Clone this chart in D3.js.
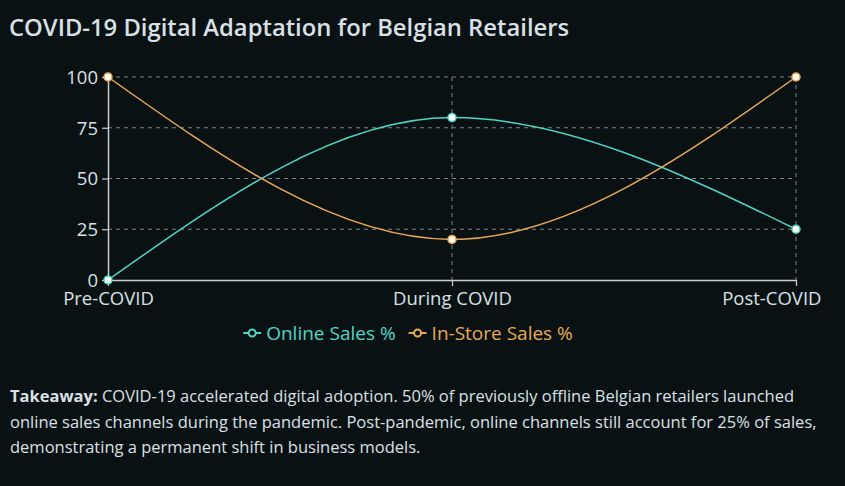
<!DOCTYPE html>
<html><head><meta charset="utf-8">
<script src="https://cdn.jsdelivr.net/npm/d3@7"></script>
<style>
html,body{margin:0;padding:0;background:#0a1113;}
body{width:845px;height:486px;overflow:hidden;font-family:"Open Sans","Noto Sans",sans-serif;color:#d9e0e6;}
</style></head>
<body>
<svg id="chart" width="845" height="486"></svg>
<script>
const categories = ["Pre-COVID", "During COVID", "Post-COVID"];
const onlineSales = [0, 80, 25];
const inStoreSales = [100, 20, 100];
const yTicks = [0, 25, 50, 75, 100];
const seriesNames = ["Online Sales %", "In-Store Sales %"];
const seriesColors = ["#4ed6c4", "#e8a957"];
const title = "COVID-19 Digital Adaptation for Belgian Retailers";
const takeawayLines = [
  [{b:true,t:"Takeaway:"},{b:false,t:" COVID-19 accelerated digital adoption. 50% of previously offline Belgian retailers launched"}],
  [{b:false,t:"online sales channels during the pandemic. Post-pandemic, online channels still account for 25% of sales,"}],
  [{b:false,t:"demonstrating a permanent shift in business models."}]
];

const svg = d3.select("#chart");
const textColor = "#d9e0e6";
const mLeft = 108, mRight = 796, mTop = 77, mBottom = 280;
const labelRightLimit = 821;

svg.append("text").attr("x", 9).attr("y", 36).attr("fill", textColor)
  .attr("font-size", 23.8).attr("font-weight", 600).text(title);

const x = d3.scalePoint().domain(categories).range([mLeft, mRight]);
const y = d3.scaleLinear().domain([0, 100]).range([mBottom, mTop]);

// grid
const g = svg.append("g");
g.selectAll(".hg").data(yTicks.filter(d => d > 0)).join("line")
  .attr("x1", mLeft).attr("x2", mRight).attr("y1", d => y(d)).attr("y2", d => y(d))
  .attr("stroke", "#7d8588").attr("stroke-dasharray", "4,4").attr("stroke-width", 1);
g.selectAll(".vg").data(categories.slice(1)).join("line")
  .attr("x1", d => x(d)).attr("x2", d => x(d)).attr("y1", mTop).attr("y2", mBottom)
  .attr("stroke", "#7d8588").attr("stroke-dasharray", "4,4").attr("stroke-width", 1);

// axes
const ax = svg.append("g").attr("transform", `translate(0,${mBottom})`)
  .call(d3.axisBottom(x).tickSize(6).tickSizeOuter(0).tickPadding(2));
const ay = svg.append("g").attr("transform", `translate(${mLeft},0)`)
  .call(d3.axisLeft(y).tickValues(yTicks).tickSize(6).tickSizeOuter(0).tickPadding(4));
[ax, ay].forEach(a => {
  a.select(".domain").attr("stroke", "#c8ced2").attr("stroke-width", 1.5);
  a.selectAll(".tick line").attr("stroke", "#c8ced2").attr("stroke-width", 1.2);
  a.selectAll(".tick text").attr("fill", textColor).attr("font-size", 18.5)
    .attr("font-family", '"Open Sans","Noto Sans",sans-serif');
});
ax.selectAll(".tick text").attr("dy", "0.9em");
ay.selectAll(".tick text").attr("dy", "0.35em");
// keep the last x label inside the chart area
ax.selectAll(".tick text").each(function(d) {
  const w = this.getComputedTextLength();
  const over = x(d) + w / 2 - labelRightLimit;
  if (over > 0) d3.select(this).attr("x", -over);
});

// lines
const line = d3.line().x((d, i) => x(categories[i])).y(d => y(d)).curve(d3.curveMonotoneX);
[onlineSales, inStoreSales].forEach((vals, si) => {
  svg.append("path").datum(vals).attr("d", line).attr("fill", "none")
    .attr("stroke", seriesColors[si]).attr("stroke-width", 1.5);
  svg.selectAll(null).data(vals).join("circle")
    .attr("cx", (d, i) => x(categories[i])).attr("cy", d => y(d)).attr("r", 4)
    .attr("fill", "#fffaf0").attr("stroke", seriesColors[si]).attr("stroke-width", 1.5);
});

// legend
const legend = svg.append("g");
let cx = 0;
seriesNames.forEach((name, i) => {
  const it = legend.append("g").attr("transform", `translate(${cx},0)`);
  it.append("line").attr("x1", 0).attr("x2", 18).attr("y1", 0).attr("y2", 0)
    .attr("stroke", seriesColors[i]).attr("stroke-width", 2);
  it.append("circle").attr("cx", 9).attr("cy", 0).attr("r", 3.5)
    .attr("fill", "#0a1113").attr("stroke", seriesColors[i]).attr("stroke-width", 2);
  const t = it.append("text").attr("x", 23).attr("y", 0).attr("dy", "0.35em")
    .attr("fill", seriesColors[i]).attr("font-size", 19).text(name);
  const w = t.node().getComputedTextLength();
  cx += 23 + w + 13;
});
const totalW = cx - 13;
legend.attr("transform", `translate(${408 - totalW / 2},333)`);

// takeaway
const tk = svg.append("text").attr("x", 10).attr("y", 402).attr("fill", textColor).attr("font-size", 16.5);
takeawayLines.forEach((ln, li) => {
  ln.forEach((seg, si) => {
    const ts = tk.append("tspan").text(seg.t).attr("font-weight", seg.b ? 700 : 400);
    if (si === 0) ts.attr("x", 10).attr("y", 402 + li * 25.5);
  });
});
</script>
</body></html>
